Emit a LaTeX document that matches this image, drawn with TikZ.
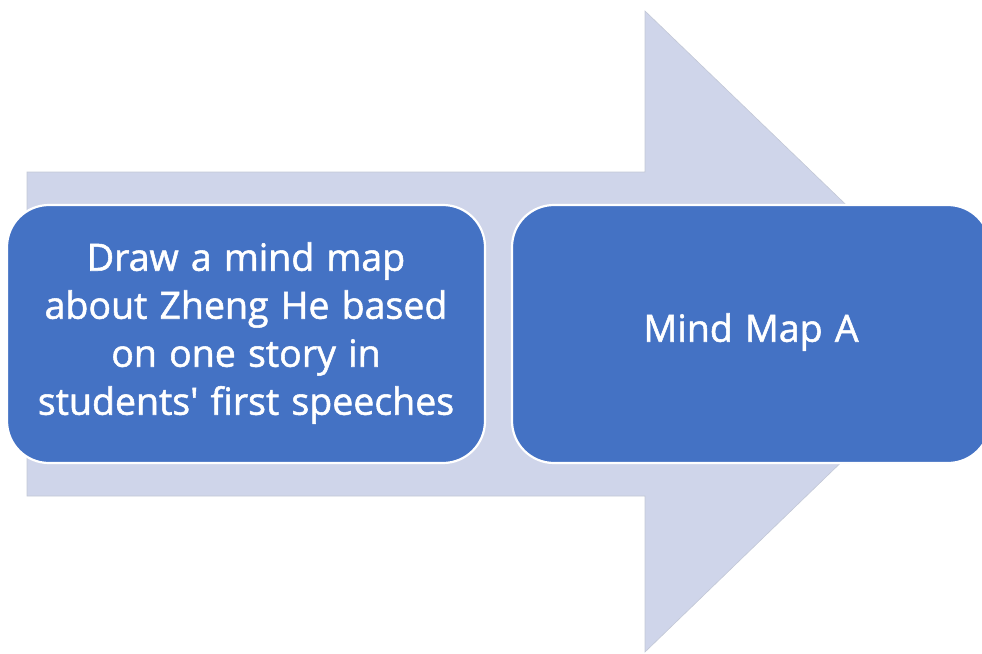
\documentclass[tikz,border=0pt]{standalone}
\usepackage{fontspec}
\newfontfamily\txtfont{Open Sans}[FakeBold=1.4,WordSpace=1.25]
\definecolor{arrowfill}{HTML}{CFD5EA}
\definecolor{arrowline}{HTML}{C3C8D6}
\definecolor{boxfill}{HTML}{4472C4}
\begin{document}
\begin{tikzpicture}[x=1pt,y=-1pt,
  stepbox/.style={draw=white,line width=2.2pt,fill=boxfill,rounded corners=42pt},
  boxtext/.style={text=white,align=center,inner sep=0pt,font=\txtfont\fontsize{37.5}{48}\selectfont},
  bigarrow/.style={fill=arrowfill,draw=arrowline,line width=0.6pt,line join=miter}]
\useasboundingbox (0,0) rectangle (982,653);
\clip (0,0) rectangle (982,653);
\draw[bigarrow] (27,172) -- (645,172) -- (645,11) -- (977,331) -- (645,652) -- (645,496) -- (27,496) -- cycle;
\draw[stepbox] (7,205) rectangle (485,463);
\node[boxtext] (left) at (246,333)
  {Draw a mind map\\about Zheng He based\\on one story in\\students' first speeches};
\draw[stepbox] (512,205) rectangle (990,463);
\node[boxtext] (right) at (751,332) {Mind Map A};
\end{tikzpicture}
\end{document}
